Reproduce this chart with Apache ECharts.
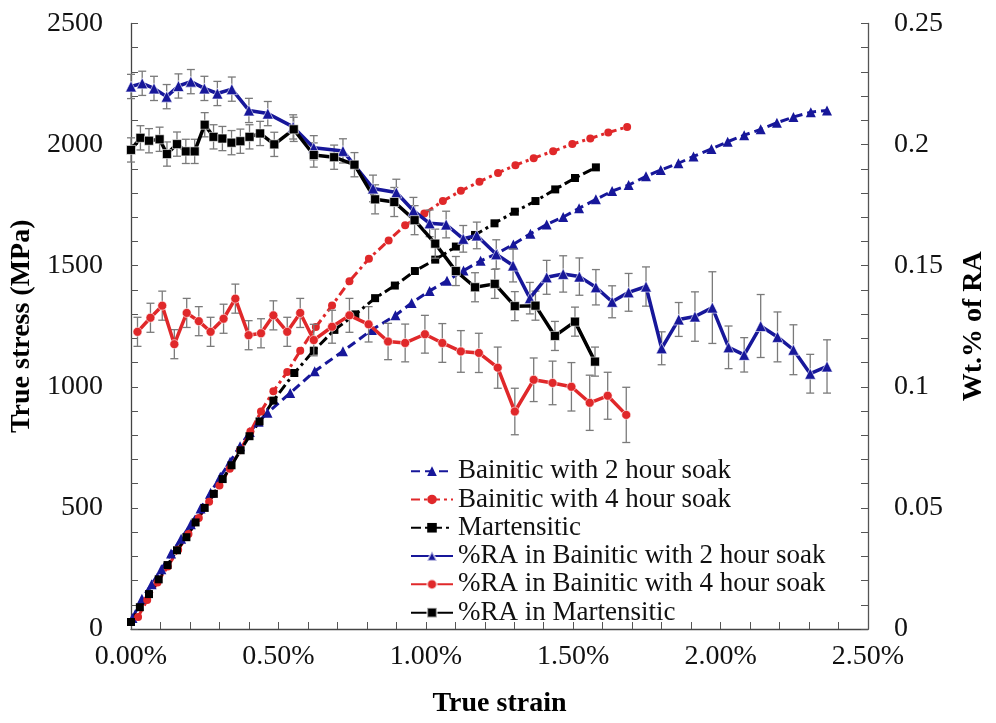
<!DOCTYPE html>
<html>
<head>
<meta charset="utf-8">
<script src="https://cdn.jsdelivr.net/npm/echarts@6/dist/echarts.min.js"></script>
<style>
  html, body { margin: 0; padding: 0; background: #fff; }
  #chart { width: 996px; height: 723px; }
</style>
</head>
<body>
<div id="chart"></div>
<script>
// ---- True stress curves (strain in %, stress in MPa) ----
const strain2h = [0.005,0.037,0.07,0.103,0.136,0.17,0.203,0.236,0.27,0.303,0.336,0.37,0.403,0.433,0.463,0.54,0.623,0.719,0.817,0.897,0.952,1.013,1.072,1.128,1.186,1.241,1.297,1.355,1.41,1.466,1.52,1.577,1.632,1.688,1.747,1.797,1.857,1.908,1.969,2.024,2.08,2.136,2.191,2.247,2.306,2.361];
const stress2h = [45,125,185,247,312,373,433,498,563,629,691,755,813,856,893,974,1064,1147,1235,1295,1346,1396,1438,1480,1520,1550,1588,1632,1670,1701,1737,1774,1808,1833,1869,1895,1923,1951,1982,2012,2039,2063,2090,2114,2134,2141];

const strain4h = [0.024,0.055,0.09,0.125,0.16,0.195,0.23,0.265,0.30,0.335,0.37,0.405,0.441,0.483,0.53,0.574,0.627,0.682,0.741,0.807,0.874,0.93,0.995,1.058,1.119,1.182,1.245,1.304,1.366,1.432,1.497,1.558,1.619,1.683];
const stress4h = [50,120,192,258,327,392,458,525,593,662,738,815,898,982,1061,1149,1247,1336,1436,1529,1604,1667,1716,1767,1809,1847,1883,1915,1944,1973,2002,2025,2050,2073];

const strainMart = [0,0.03,0.061,0.094,0.124,0.156,0.188,0.219,0.25,0.281,0.311,0.341,0.372,0.402,0.436,0.483,0.554,0.62,0.69,0.761,0.828,0.895,0.963,1.032,1.102,1.167,1.233,1.302,1.372,1.439,1.506,1.577];
const stressMart = [29,90,144,205,264,325,379,440,500,558,619,676,738,796,857,943,1057,1149,1235,1299,1366,1418,1478,1525,1579,1627,1675,1723,1767,1815,1862,1906];

// ---- Retained austenite fraction (strain in %, wt. fraction, error) ----
const raStrain2h = [0,0.038,0.078,0.121,0.161,0.203,0.249,0.293,0.342,0.40,0.464,0.55,0.62,0.719,0.821,0.90,0.958,1.013,1.069,1.127,1.173,1.239,1.296,1.353,1.41,1.466,1.521,1.577,1.632,1.688,1.747,1.80,1.858,1.913,1.972,2.027,2.08,2.136,2.193,2.247,2.304,2.361];
const ra2h = [0.224,0.2253,0.2232,0.2198,0.2242,0.226,0.2232,0.2211,0.2229,0.2141,0.2128,0.2073,0.1987,0.1974,0.1819,0.1802,0.1727,0.1675,0.167,0.1611,0.1625,0.1547,0.1501,0.1366,0.1452,0.1466,0.1455,0.1411,0.1351,0.139,0.1414,0.1159,0.1278,0.129,0.1327,0.1163,0.1132,0.1251,0.1206,0.1153,0.1054,0.1084];
const raErr2h = [0.005,0.005,0.005,0.005,0.005,0.005,0.005,0.005,0.005,0.005,0.005,0.005,0.005,0.005,0.0055,0.0055,0.0055,0.0055,0.0055,0.0055,0.0055,0.006,0.0068,0.0065,0.007,0.0075,0.0077,0.0073,0.0066,0.0078,0.0081,0.0068,0.007,0.0102,0.0148,0.0088,0.0071,0.013,0.0103,0.0103,0.008,0.011];

const raStrain4h = [0.022,0.066,0.106,0.147,0.189,0.23,0.27,0.314,0.354,0.399,0.441,0.483,0.53,0.574,0.62,0.682,0.741,0.806,0.872,0.93,0.997,1.056,1.119,1.18,1.244,1.302,1.366,1.43,1.494,1.556,1.617,1.68];
const ra4h = [0.1227,0.1285,0.1335,0.1176,0.1305,0.1271,0.1227,0.1281,0.1364,0.1213,0.1221,0.1295,0.1227,0.1305,0.1193,0.1248,0.1295,0.1258,0.1187,0.1181,0.1217,0.1181,0.1146,0.114,0.1079,0.0898,0.1029,0.1016,0.1,0.0934,0.0963,0.0884];
const raErr4h = [0.006,0.006,0.006,0.006,0.006,0.006,0.006,0.006,0.006,0.006,0.006,0.006,0.006,0.006,0.0065,0.0068,0.007,0.0073,0.0075,0.0078,0.0078,0.008,0.0086,0.0081,0.0085,0.0096,0.009,0.009,0.01,0.0114,0.0097,0.0114];

const raStrainMart = [0,0.032,0.061,0.097,0.122,0.156,0.186,0.216,0.25,0.28,0.31,0.341,0.371,0.402,0.438,0.486,0.552,0.62,0.689,0.758,0.828,0.893,0.962,1.032,1.102,1.167,1.234,1.302,1.372,1.438,1.506,1.574];
const raMart = [0.1978,0.2028,0.2016,0.2022,0.1961,0.2002,0.1972,0.1972,0.2082,0.2032,0.2025,0.2008,0.2014,0.2032,0.2046,0.2001,0.2063,0.1957,0.1948,0.1917,0.1774,0.1763,0.1688,0.1591,0.1478,0.1411,0.1425,0.1333,0.1335,0.121,0.1269,0.1104];
const raErrMart = [0.005,0.005,0.005,0.005,0.005,0.005,0.005,0.005,0.005,0.005,0.005,0.005,0.005,0.005,0.005,0.005,0.005,0.005,0.005,0.005,0.006,0.006,0.006,0.006,0.006,0.006,0.006,0.006,0.006,0.006,0.006,0.006];

const names = [
  'Bainitic with 2 hour soak',
  'Bainitic with 4 hour soak',
  'Martensitic',
  '%RA in Bainitic with 2 hour soak',
  '%RA in Bainitic with 4 hour soak',
  '%RA in Martensitic'
];

const BLUE = '#17179a';
const RED = '#e0282a';
const BLACK = '#000000';
const SERIF = '"Liberation Serif", "DejaVu Serif", serif';

const zip = (xs, ys) => xs.map((x, i) => [x, ys[i]]);
const zip3 = (xs, ys, es) => xs.map((x, i) => [x, ys[i], es[i]]);

// vertical error bar with short caps, drawn through the axis scales
function errorBars(params, api) {
  const x = api.value(0), y = api.value(1), e = api.value(2);
  const hi = api.coord([x, y + e]);
  const lo = api.coord([x, y - e]);
  const cap = 4;
  const st = { stroke: '#7a7a7a', lineWidth: 1.3 };
  return {
    type: 'group',
    children: [
      { type: 'line', shape: { x1: hi[0], y1: hi[1], x2: lo[0], y2: lo[1] }, style: st },
      { type: 'line', shape: { x1: hi[0] - cap, y1: hi[1], x2: hi[0] + cap, y2: hi[1] }, style: st },
      { type: 'line', shape: { x1: lo[0] - cap, y1: lo[1], x2: lo[0] + cap, y2: lo[1] }, style: st }
    ]
  };
}

function stressSeries(name, xs, ys, color, dash, symbol, size) {
  return {
    name, type: 'line', yAxisIndex: 0, data: zip(xs, ys),
    symbol, symbolSize: size, showSymbol: true,
    lineStyle: { color, width: 3, type: dash },
    itemStyle: { color },
    z: 3, animation: false
  };
}
function raSeries(name, xs, ys, color, symbol, size) {
  return {
    name, type: 'line', yAxisIndex: 1, data: zip(xs, ys),
    symbol, symbolSize: size, showSymbol: true,
    lineStyle: { color, width: 3.5, type: 'solid' },
    itemStyle: { color, borderColor: 'rgba(255,255,255,0.6)', borderWidth: 1 },
    z: 5, animation: false
  };
}
function errSeries(xs, ys, es) {
  return {
    type: 'custom', yAxisIndex: 1, data: zip3(xs, ys, es),
    renderItem: errorBars, encode: { x: 0, y: 1 }, z: 4, silent: true, animation: false
  };
}

const tickStyle = { show: true, inside: true, length: 7, lineStyle: { color: '#555', width: 1 } };
const minorStyle = { show: true, splitNumber: 5, length: 7, lineStyle: { color: '#555', width: 1 } };
const labelStyle = { fontFamily: SERIF, fontSize: 28, color: '#111' };
const nameStyle = { fontFamily: SERIF, fontSize: 28, fontWeight: 'bold', color: '#000' };

const chart = echarts.init(document.getElementById('chart'), null, { renderer: 'canvas' });
chart.setOption({
  backgroundColor: '#ffffff',
  animation: false,
  grid: { left: 131, right: 115, top: 23.5, bottom: 86, containLabel: false },
  legend: {
    data: names,
    orient: 'vertical',
    left: 405, top: 452,
    itemWidth: 42, itemHeight: 12, itemGap: 0,
    textStyle: { fontFamily: SERIF, fontSize: 27, color: '#111', lineHeight: 28.3 },
    selectedMode: false
  },
  xAxis: {
    type: 'value', min: 0, max: 2.5, interval: 0.5,
    name: 'True strain', nameLocation: 'middle', nameGap: 61, nameTextStyle: nameStyle,
    axisLine: { show: true, lineStyle: { color: '#444', width: 1.3 } },
    axisTick: tickStyle, minorTick: minorStyle,
    splitLine: { show: false },
    axisLabel: Object.assign({ margin: 14, formatter: v => v.toFixed(2) + '%' }, labelStyle)
  },
  yAxis: [
    {
      type: 'value', min: 0, max: 2500, interval: 500, position: 'left',
      name: 'True stress (MPa)', nameLocation: 'middle', nameGap: 84, nameRotate: 90, nameTextStyle: nameStyle,
      axisLine: { show: true, lineStyle: { color: '#444', width: 1.3 } },
      axisTick: tickStyle, minorTick: minorStyle,
      splitLine: { show: false },
      axisLabel: Object.assign({ margin: 28, formatter: v => String(v) }, labelStyle)
    },
    {
      type: 'value', min: 0, max: 0.25, interval: 0.05, position: 'right',
      name: 'Wt.% of RA', nameLocation: 'middle', nameGap: 92, nameRotate: 90, nameTextStyle: nameStyle,
      axisLine: { show: true, lineStyle: { color: '#555', width: 1.3 } },
      axisTick: tickStyle, minorTick: minorStyle,
      splitLine: { show: false },
      axisLabel: Object.assign({ margin: 26, formatter: v => String(parseFloat(v.toFixed(2))) }, labelStyle)
    }
  ],
  series: [
    stressSeries(names[0], strain2h, stress2h, BLUE, [9, 5], 'triangle', 10),
    stressSeries(names[1], strain4h, stress4h, RED, [9, 4, 3, 4], 'circle', 8),
    stressSeries(names[2], strainMart, stressMart, BLACK, [10, 4, 3, 4], 'rect', 8),
    errSeries(raStrain2h, ra2h, raErr2h),
    errSeries(raStrain4h, ra4h, raErr4h),
    errSeries(raStrainMart, raMart, raErrMart),
    raSeries(names[3], raStrain2h, ra2h, BLUE, 'triangle', 11),
    raSeries(names[4], raStrain4h, ra4h, RED, 'circle', 9),
    raSeries(names[5], raStrainMart, raMart, BLACK, 'rect', 9)
  ]
});
</script>
</body>
</html>
